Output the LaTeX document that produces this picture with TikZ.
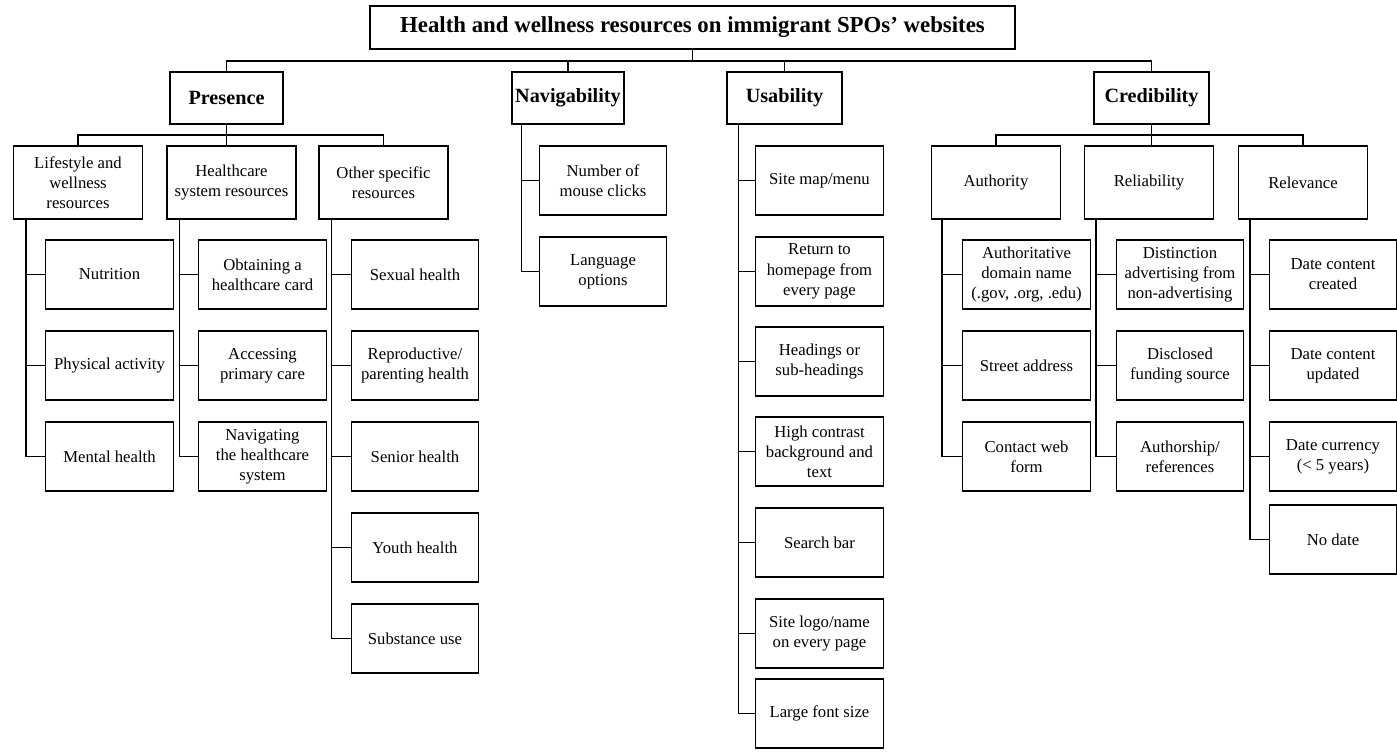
\documentclass[tikz,border=0pt]{standalone}
\usepackage{fontspec}
\setmainfont{Liberation Serif}
\usetikzlibrary{calc}
\begin{document}
\begin{tikzpicture}[x=0.02cm,y=-0.02cm,
  line width=0.8pt,
  box/.style={draw, align=center, inner sep=1pt, line width=0.8pt},
  titlebox/.style={box, minimum width=12.9cm, minimum height=0.86cm, font=\bfseries\fontsize{13}{15}\selectfont},
  head/.style={box, minimum height=1.04cm, font=\bfseries\fontsize{11.5}{13.5}\selectfont},
  sub/.style={box, minimum width=2.58cm, minimum height=1.46cm, font=\fontsize{9.5}{11.5}\selectfont},
  leaf/.style={box, minimum width=2.55cm, minimum height=1.38cm, font=\fontsize{9.5}{11.5}\selectfont}]
\useasboundingbox (0,0) rectangle (1397,755);

% title and headings
\node[titlebox] (title) at (692.5,27.5) {Health and wellness resources on immigrant SPOs’ websites};
\node[head, minimum width=2.26cm] (pres) at (226.5,98) {Presence};
\node[head, minimum width=2.24cm] (nav) at (568,98) {Navigability};
\node[head, minimum width=2.3cm] (usa) at (784.5,98) {Usability};
\node[head, minimum width=2.3cm] (cred) at (1151.5,98) {Credibility};
\coordinate (bus) at (0,61);
\coordinate (bus2) at (0,135);

% presence children
\node[sub] (life) at (78,182.5) {Lifestyle and\\wellness\\resources};
\node[sub] (hc) at (231.5,182.5) {Healthcare\\system resources};
\node[sub] (other) at (383.5,182.5) {Other specific\\resources};

% credibility children
\node[sub] (auth) at (996,182.5) {Authority};
\node[sub] (rel) at (1149,182.5) {Reliability};
\node[sub] (relv) at (1303,182.5) {Relevance};

% lifestyle leaves
\node[leaf] (nut) at (109.5,274.5) {Nutrition};
\node[leaf] (phys) at (109.5,365.5) {Physical activity};
\node[leaf] (ment) at (109.5,456.5) {Mental health};

% healthcare leaves
\node[leaf] (card) at (262.5,274.5) {Obtaining a\\healthcare card};
\node[leaf] (prim) at (262.5,365.5) {Accessing\\primary care};
\node[leaf] (navhc) at (262.5,456.5) {Navigating\\the healthcare\\system};

% other leaves
\node[leaf] (sex) at (415,274.5) {Sexual health};
\node[leaf] (repr) at (415,365.5) {Reproductive/\\parenting health};
\node[leaf] (sen) at (415,456.5) {Senior health};
\node[leaf] (youth) at (415,547.5) {Youth health};
\node[leaf] (subst) at (415,638.5) {Substance use};

% navigability leaves
\node[leaf] (clicks) at (603,180.5) {Number of\\mouse clicks};
\node[leaf] (lang) at (603,271.5) {Language\\options};

% usability leaves
\node[leaf] (map) at (819.5,180.5) {Site map/menu};
\node[leaf] (ret) at (819.5,271.5) {Return to\\homepage from\\every page};
\node[leaf] (headg) at (819.5,361.5) {Headings or\\sub-headings};
\node[leaf] (contr) at (819.5,451.5) {High contrast\\background and\\text};
\node[leaf] (search) at (819.5,542.5) {Search bar};
\node[leaf] (logo) at (819.5,633.5) {Site logo/name\\on every page};
\node[leaf] (font) at (819.5,713.5) {Large font size};

% authority leaves
\node[leaf] (dom) at (1026.5,274.5) {Authoritative\\domain name\\(.gov, .org, .edu)};
\node[leaf] (street) at (1026.5,365.5) {Street address};
\node[leaf] (form) at (1026.5,456.5) {Contact web\\form};

% reliability leaves
\node[leaf] (dist) at (1180,274.5) {Distinction\\advertising from\\non-advertising};
\node[leaf] (fund) at (1180,365.5) {Disclosed\\funding source};
\node[leaf] (authr) at (1180,456.5) {Authorship/\\references};

% relevance leaves
\node[leaf] (created) at (1333,274.5) {Date content\\created};
\node[leaf] (updated) at (1333,365.5) {Date content\\updated};
\node[leaf] (curr) at (1333,456.5) {Date currency\\(< 5 years)};
\node[leaf] (nodate) at (1333,539.5) {No date};

% top level connectors
\draw (title.south) -- (title.south |- bus);
\draw (pres.north) -- (pres.north |- bus) -- (cred.north |- bus) -- (cred.north);
\draw (nav.north) -- (nav.north |- bus);
\draw (usa.north) -- (usa.north |- bus);

% second level
\draw (pres.south) -- (pres.south |- hc.north);
\draw (life.north) -- (life.north |- bus2) -- (other.north |- bus2) -- (other.north);
\draw (cred.south) -- (cred.south |- rel.north);
\draw (auth.north) -- (auth.north |- bus2) -- (relv.north |- bus2) -- (relv.north);

% spines
\foreach \n in {nut,phys,ment} \draw ($(life.south west)+(13,0)$) |- (\n.west);
\foreach \n in {card,prim,navhc} \draw ($(hc.south west)+(13,0)$) |- (\n.west);
\foreach \n in {sex,repr,sen,youth,subst} \draw ($(other.south west)+(13,0)$) |- (\n.west);
\foreach \n in {clicks,lang} \draw ($(nav.south west)+(10,0)$) |- (\n.west);
\foreach \n in {map,ret,headg,contr,search,logo,font} \draw ($(usa.south west)+(12,0)$) |- (\n.west);
\foreach \n in {dom,street,form} \draw ($(auth.south west)+(11,0)$) |- (\n.west);
\foreach \n in {dist,fund,authr} \draw ($(rel.south west)+(12,0)$) |- (\n.west);
\foreach \n in {created,updated,curr,nodate} \draw ($(relv.south west)+(12,0)$) |- (\n.west);
\end{tikzpicture}
\end{document}
